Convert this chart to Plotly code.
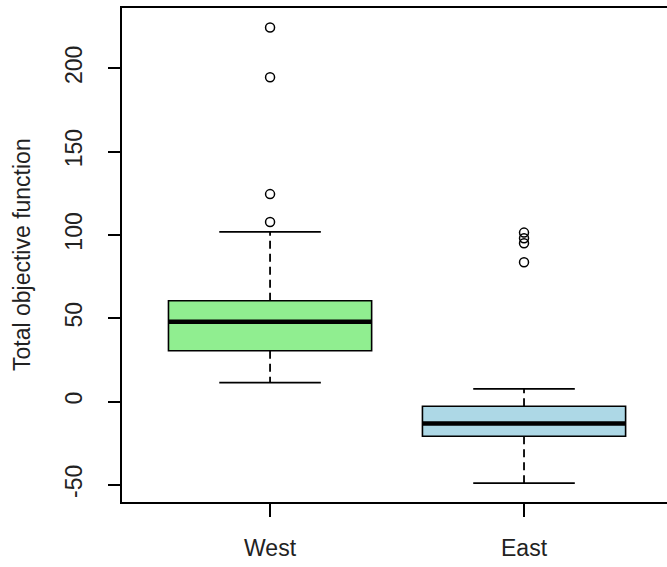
import plotly.graph_objects as go

# ---- data ----
groups = ["West", "East"]
positions = [1, 2]
q1 = [30.5, -20.8]
median = [47.9, -13.2]
q3 = [60.5, -2.8]
lower_whisker = [11.4, -49.0]
upper_whisker = [101.8, 7.6]
outliers = [[107.8, 124.5, 194.6, 224.5], [83.6, 95.0, 98.0, 101.4]]
fill_colors = ["#90EE90", "#ADD8E6"]
y_ticks = [-50, 0, 50, 100, 150, 200]
y_tick_labels = ["-50", "0", "50", "100", "150", "200"]

BOX_W = 0.8
CAP_W = 0.4
FONT = "Liberation Sans, Arial, sans-serif"

fig = go.Figure()

for i, g in enumerate(groups):
    x = positions[i]
    # box body (whiskers drawn separately as dashed lines)
    fig.add_trace(go.Box(
        x=[x], q1=[q1[i]], median=[median[i]], q3=[q3[i]],
        lowerfence=[q1[i]], upperfence=[q3[i]],
        width=BOX_W, fillcolor=fill_colors[i],
        line=dict(color="black", width=1.6),
        boxpoints=False, showlegend=False, hoverinfo="skip",
    ))
    # dashed whiskers
    fig.add_trace(go.Scatter(
        x=[x, x, None, x, x], y=[q3[i], upper_whisker[i], None, q1[i], lower_whisker[i]],
        mode="lines", line=dict(color="black", width=1.8, dash="8px,5px"),
        showlegend=False, hoverinfo="skip"))
    # whisker caps
    fig.add_trace(go.Scatter(
        x=[x - CAP_W / 2, x + CAP_W / 2, None, x - CAP_W / 2, x + CAP_W / 2],
        y=[upper_whisker[i], upper_whisker[i], None, lower_whisker[i], lower_whisker[i]],
        mode="lines", line=dict(color="black", width=1.8),
        showlegend=False, hoverinfo="skip"))
    # thick median
    fig.add_trace(go.Scatter(
        x=[x - BOX_W / 2, x + BOX_W / 2], y=[median[i], median[i]],
        mode="lines", line=dict(color="black", width=4.5),
        showlegend=False, hoverinfo="skip"))
    # outliers
    fig.add_trace(go.Scatter(
        x=[x] * len(outliers[i]), y=outliers[i], mode="markers",
        marker=dict(symbol="circle-open", size=9, color="black", line=dict(width=1.5)),
        showlegend=False, hoverinfo="skip"))

fig.update_layout(
    width=667, height=567,
    margin=dict(l=122, r=0, t=8, b=65),
    plot_bgcolor="white", paper_bgcolor="white",
    font=dict(family=FONT, size=23, color="#222"),
    xaxis=dict(
        range=[0.417, 2.563], tickvals=positions, ticktext=groups,
        showgrid=False, zeroline=False,
        showline=True, linecolor="black", linewidth=2, mirror=True,
        ticks="outside", ticklen=13, tickwidth=1.6, tickcolor="black",
        ticklabelstandoff=11,
    ),
    yaxis=dict(
        range=[-60.3, 236.2], tickvals=y_ticks, ticktext=y_tick_labels,
        showgrid=False, zeroline=False,
        showline=True, linecolor="black", linewidth=2, mirror=False,
        ticks="outside", ticklen=12, tickwidth=1.6, tickcolor="black",
        tickangle=-90, ticklabelstandoff=17,
    ),
    annotations=[dict(
        text="Total objective function", xref="paper", yref="paper",
        x=(22 - 122) / 545, y=0.5, xanchor="center", yanchor="middle",
        textangle=-90, showarrow=False, font=dict(family=FONT, size=23, color="#222"),
    )],
)

fig.write_html("out.html")
